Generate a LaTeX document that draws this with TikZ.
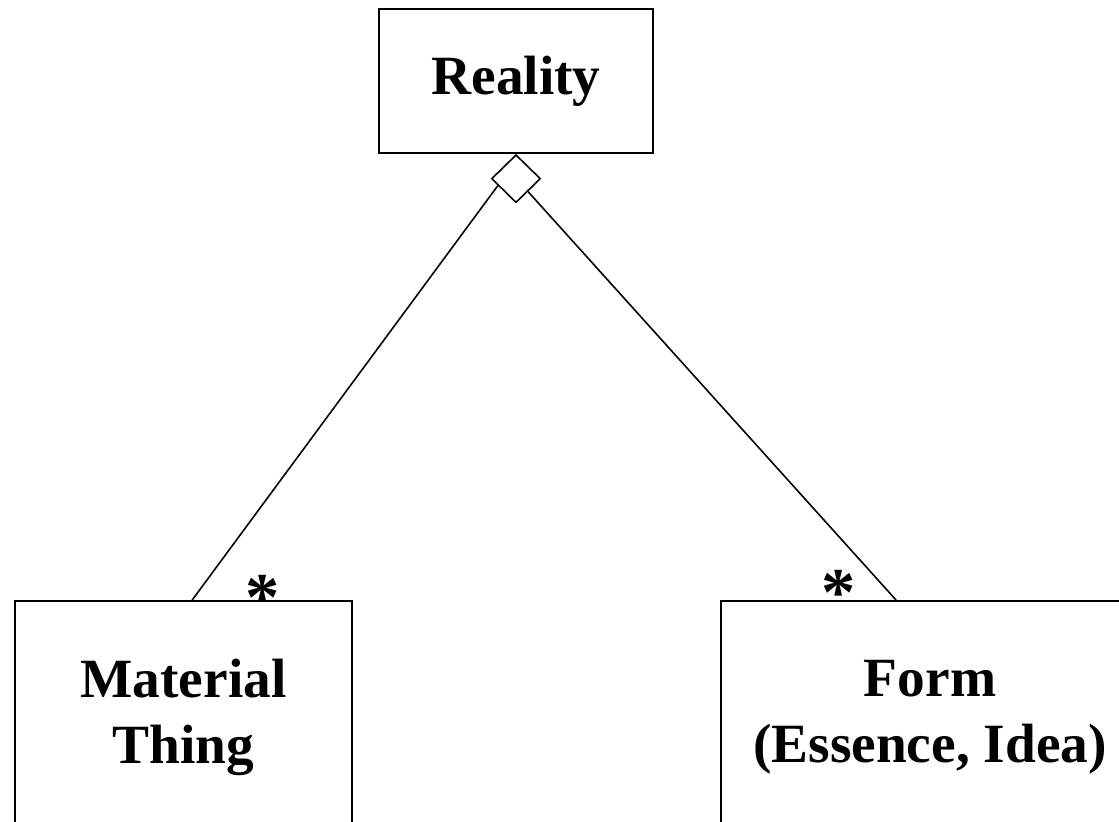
\documentclass[tikz,border=0pt]{standalone}
\usepackage{fontspec}
\setmainfont{Liberation Serif}
\usetikzlibrary{shapes.geometric, calc}
\tikzset{
  cls/.style={rectangle, draw=black, line width=1pt, align=center,
              font=\fontsize{31.5}{37.6}\selectfont\bfseries, inner sep=0pt},
  agg/.style={diamond, draw=black, line width=0.9pt, fill=white, inner sep=0pt,
              minimum width=0.98cm, minimum height=0.96cm},
  link/.style={draw=black, line width=0.9pt},
  mult/.style={font=\fontsize{39}{40}\selectfont\bfseries, inner sep=0pt},
}
\begin{document}
\begin{tikzpicture}
  \useasboundingbox (0,0) rectangle (22.38,16.42);
  \clip (0,0) rectangle (22.38,16.42);

  \node[cls, minimum width=5.48cm, minimum height=2.88cm] (R) at (10.32,14.80) {Reality};
  \node[cls, minimum width=6.74cm, minimum height=4.64cm] (M) at (3.67,2.08) {Material\\Thing};
  \node[cls, minimum width=8.36cm, minimum height=4.64cm] (F) at (18.60,2.08) {Form\\(Essence, Idea)};

  \node[agg, anchor=north] (D) at (R.south) {};

  \coordinate (mEnd) at ($(M.north west)+(3.56,0)$);
  \coordinate (fEnd) at ($(F.north west)+(3.52,0)$);

  \draw[link] (D.201) -- (mEnd);
  \draw[link] (D.313) -- (fEnd);

  \node[mult, anchor=north] (mStar) at (5.26,4.92) {*};
  \node[mult, anchor=north] (fStar) at (16.78,5.02) {*};
\end{tikzpicture}
\end{document}
